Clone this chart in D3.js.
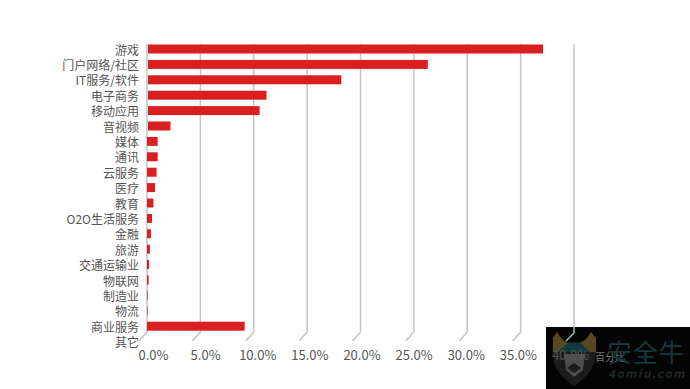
<!DOCTYPE html>
<html><head><meta charset="utf-8">
<script src="https://cdnjs.cloudflare.com/ajax/libs/d3/7.8.5/d3.min.js"></script>
<style>html,body{margin:0;background:#fff}svg{display:block}text{font-family:"Noto Sans CJK SC","Noto Sans",sans-serif}</style>
</head><body><svg id="c" width="690" height="389"></svg>
<script>
const categories=["游戏","门户网络/社区","IT服务/软件","电子商务","移动应用","音视频","媒体","通讯","云服务","医疗","教育","O2O生活服务","金融","旅游","交通运输业","物联网","制造业","物流","商业服务","其它"];
const values=[37.1,26.3,18.2,11.2,10.55,2.2,1.0,1.0,0.9,0.75,0.6,0.47,0.37,0.27,0.2,0.15,0.06,0.05,9.15,0];
const gridTicks=[0,5,10,15,20,25,30,35,40];
const tickValues=[0,5,10,15,20,25,30,35,40];
const tickLabels=["0.0%","5.0%","10.0%","15.0%","20.0%","25.0%","30.0%","35.0%","40.0%"];
const axisTitle="百分比";

const svg=d3.select("#c");
const x=d3.scaleLinear().domain([0,40]).range([147,574]);
const y=d3.scaleBand().domain(categories).range([41.3,349.3]).paddingInner(0.4).paddingOuter(0.2);
const rowCenter=c=>y(c)+y.bandwidth()/2;

// grid
const grid=svg.append("g").attr("fill","none").attr("stroke","#c4c4c4").attr("stroke-width",1.5);
gridTicks.slice(0,-1).forEach(t=>{
  const p=d3.path();
  p.moveTo(x(t),44);p.lineTo(x(t),332);p.lineTo(x(t)-8,341);
  grid.append("path").attr("d",p.toString());
});
grid.append("path").attr("d",`M${x(40)} 44V327`);

// watermark background
const wm=svg.append("g");
wm.append("rect").attr("x",546).attr("y",327).attr("width",144).attr("height",62).attr("fill","#040404");
wm.append("path").attr("d","M553 338L557 332Q562 341 570 342L578 342Q586 341 591 332L596 338Q598 356 592 368Q584 380 574 386Q564 380 556 368Q551 356 553 338Z").attr("fill","#1b1b1b");
wm.append("path").attr("d","M553 338L557 332Q562 341 568 343L558 352L553 352Z").attr("fill","#57481f");
wm.append("path").attr("d","M596 338L591 332Q586 341 580 343L590 352L596 352Z").attr("fill","#57481f");
wm.append("path").attr("d","M568 343L580 343L590 352L558 352Z").attr("fill","#123a40");
wm.append("path").attr("d","M564 354L585 354L583 370L574 377L566 370Z").attr("fill","#4d4d4d");
wm.append("path").attr("d","M567 368L574 363L581 368L574 373Z").attr("fill","#1a1a1a");
wm.append("path").attr("d",`M${x(40)} 327V333L566 341`).attr("fill","none").attr("stroke","#a4b4b4").attr("stroke-width",1.5);

// bars
svg.append("g").selectAll("rect").data(categories).join("rect")
  .attr("x",(c,i)=>i<6?148:147)
  .attr("y",c=>rowCenter(c)-4.5)
  .attr("width",(c,i)=>Math.max(0,x(values[i])-(i<6?148:147)))
  .attr("height",9)
  .attr("fill","#d91f20");

// category labels
svg.append("g").attr("font-size",12).attr("fill","#555").attr("text-anchor","end")
  .selectAll("text").data(categories).join("text")
  .attr("x",139).attr("y",c=>rowCenter(c)+5.5).text(c=>c);

// value axis
const labelScale=d3.scaleLinear().domain([0,40]).range([153,570]);
const axis=d3.axisBottom(labelScale).tickValues(tickValues).tickSize(0).tickFormat((d,i)=>tickLabels[i]);
const ag=svg.append("g").attr("transform","translate(0,348)").call(axis);
ag.select(".domain").remove();
ag.selectAll("text").attr("font-size",13).attr("fill","#555").attr("font-family",'"Noto Sans","Noto Sans CJK SC",sans-serif');
svg.append("text").attr("x",595).attr("y",361).attr("font-size",10).attr("fill","#777").text(axisTitle);

// watermark text, over the axis title
svg.append("text").attr("x",607).attr("y",362).attr("font-size",25).attr("letter-spacing",1).attr("fill","#123a3d").text("安全牛");
svg.append("text").attr("x",608).attr("y",378).attr("font-size",11.5).attr("font-weight",700).attr("font-style","italic").attr("letter-spacing",1.6).attr("fill","#20282a").text("4omiu.com");
</script></body></html>
